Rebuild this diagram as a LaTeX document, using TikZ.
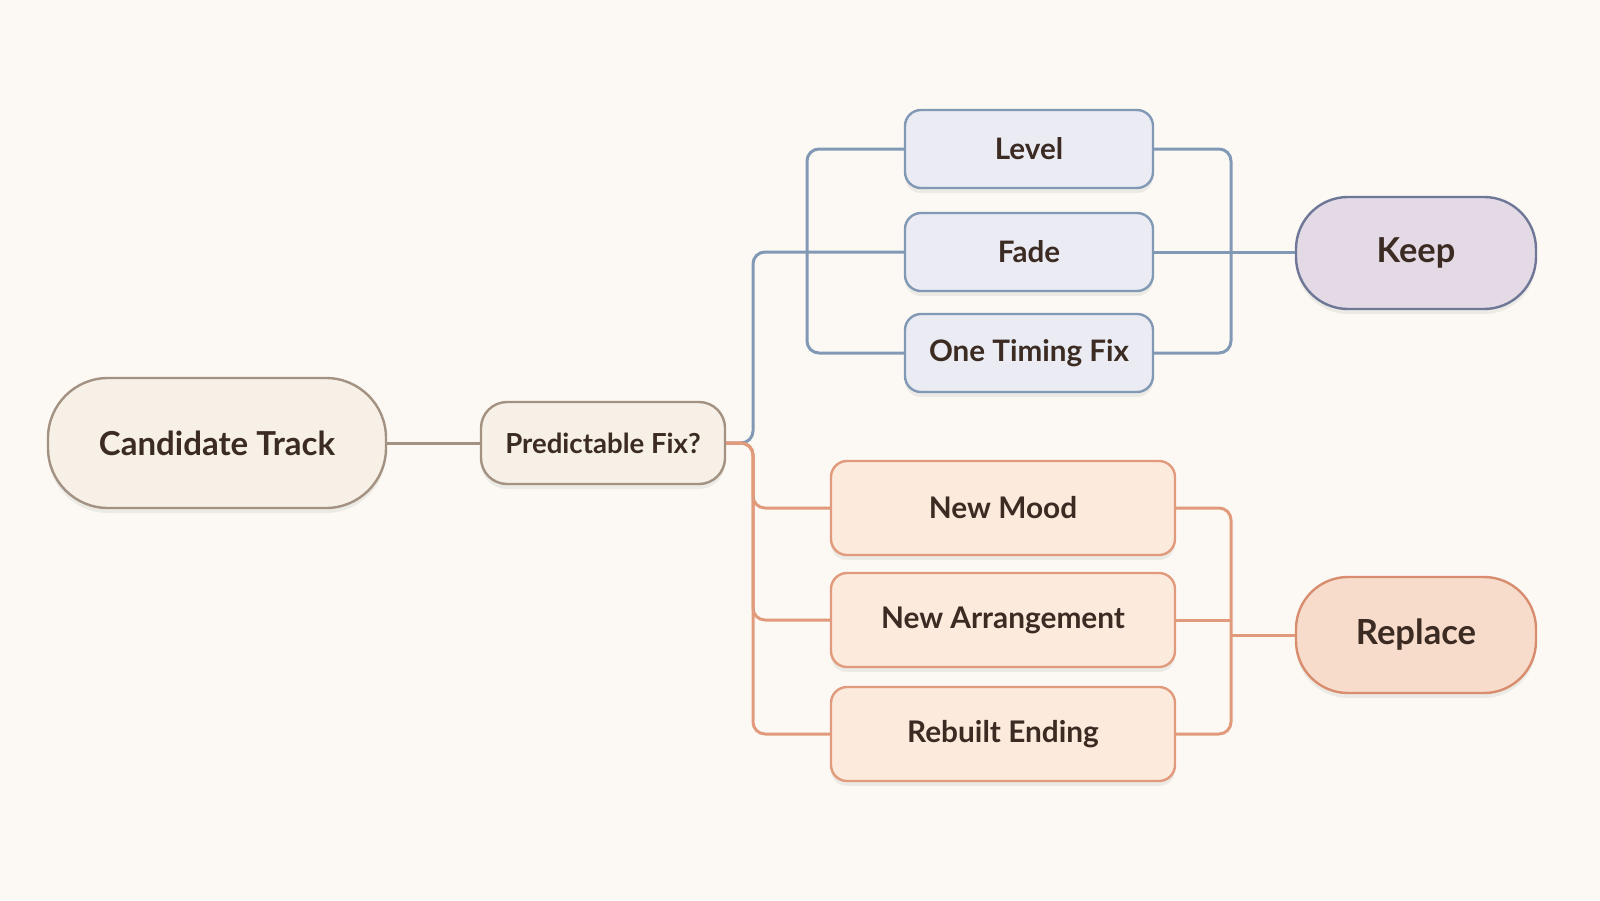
\documentclass[tikz,border=0pt]{standalone}
\usepackage{fontspec}
\setmainfont{Lato}
\usetikzlibrary{shadows}
\definecolor{paper}{HTML}{FCF9F4}
\definecolor{ink}{HTML}{3B2B22}
\definecolor{sandfill}{HTML}{F6F0E6}
\definecolor{sandline}{HTML}{A39282}
\definecolor{bluefill}{HTML}{EAEBF3}
\definecolor{blueline}{HTML}{8299B6}
\definecolor{keepfill}{HTML}{E3DAE6}
\definecolor{keepline}{HTML}{6F7797}
\definecolor{peachfill}{HTML}{FCEADD}
\definecolor{peachline}{HTML}{E29A7C}
\definecolor{replfill}{HTML}{F8DCCB}
\definecolor{replline}{HTML}{D88D6E}
\begin{document}
\begin{tikzpicture}
	[	x=0.5pt,y=-0.5pt,
	card/.style={rectangle,line width=1.2pt,text=ink,font=\bfseries,
		drop shadow={shadow xshift=0pt,shadow yshift=-2.5pt,opacity=0.12}},
	start/.style={card,draw=sandline,fill=sandfill,rounded corners=30pt,
		minimum width=169pt,minimum height=65pt,font=\bfseries\fontsize{16.5}{20}\selectfont},
	ask/.style={card,draw=sandline,fill=sandfill,rounded corners=13pt,
		minimum width=122pt,minimum height=41pt,font=\bfseries\fontsize{13.8}{16}\selectfont},
	soft/.style={card,draw=blueline,fill=bluefill,rounded corners=8pt,
		minimum width=124pt,minimum height=39pt,font=\bfseries\fontsize{14.8}{17}\selectfont},
	hard/.style={card,draw=peachline,fill=peachfill,rounded corners=8pt,
		minimum width=172pt,minimum height=47pt,font=\bfseries\fontsize{14.9}{17}\selectfont},
	keepbox/.style={card,draw=keepline,fill=keepfill,rounded corners=26pt,
		minimum width=120pt,minimum height=56pt,font=\bfseries\fontsize{17.2}{20}\selectfont},
	replbox/.style={card,draw=replline,fill=replfill,rounded corners=26pt,
		minimum width=120pt,minimum height=58pt,font=\bfseries\fontsize{17.3}{20}\selectfont},
	wire/.style={line width=1.5pt,rounded corners=6pt},
	]
	\fill[paper] (0,0) rectangle (1600,900);

	\node[start] (cand) at (217,443){Candidate Track};
	\node[ask] (pfix) at (603,443){Predictable Fix?};

	\node[soft] (level) at (1029,149){Level};
	\node[soft] (fade) at (1029,252){Fade};
	\node[soft] (timing) at (1029,353){One Timing Fix};
	\node[keepbox] (keep) at (1416,253){Keep};

	\node[hard] (mood) at (1003,508){New Mood};
	\node[hard] (arr) at (1003,620){New Arrangement};
	\node[hard] (rebuilt) at (1003,734){Rebuilt Ending};
	\node[replbox] (repl) at (1416,635){Replace};

	\coordinate (lbus) at (753,443);
	\coordinate (kbus) at (807,0);
	\coordinate (rbus) at (1231,0);

	\draw[wire,sandline] (cand) -- (pfix);

	\draw[wire,blueline] (pfix.east) -- (lbus) |- (fade.west);
	\draw[wire,blueline] (level.west) -| (kbus |- timing.west) -- (timing.west);
	\draw[wire,blueline] (level.east) -| (rbus |- timing.east) -- (timing.east);
	\draw[wire,blueline] (fade.east) -- (fade.east -| keep.west);

	\foreach \t in {mood,arr,rebuilt}
		\draw[wire,peachline] (pfix.east) -- (lbus) |- (\t.west);
	\draw[wire,peachline] (mood.east) -| (rbus |- rebuilt.east) -- (rebuilt.east);
	\draw[wire,peachline] (arr.east) -- (rbus |- arr.east);
	\draw[wire,peachline] (rbus |- repl.west) -- (repl.west);
\end{tikzpicture}
\end{document}
